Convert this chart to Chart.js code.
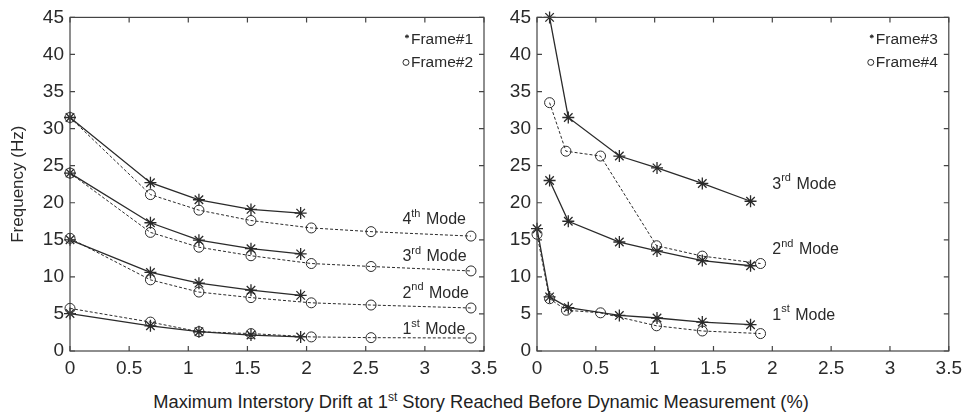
<!DOCTYPE html>
<html>
<head>
<meta charset="utf-8">
<script src="https://cdn.jsdelivr.net/npm/chart.js@4.4.1/dist/chart.umd.min.js"></script>
<style>
  body { margin: 0; background: #fff; width: 968px; height: 416px; position: relative; overflow: hidden;
         font-family: "Liberation Sans", Arial, sans-serif; }
  canvas { position: absolute; top: 0; }
  #left { left: 0; }
  #right { left: 490px; }
  #xtitle { position: absolute; left: 0; width: 962px; top: 391px; text-align: center;
            font-size: 18.3px; color: #222; }
  #xtitle sup { font-size: 12px; vertical-align: 7px; line-height: 0; }
</style>
</head>
<body>
<canvas id="left" width="510" height="385"></canvas>
<canvas id="right" width="478" height="385"></canvas>
<div id="xtitle">Maximum Interstory Drift at 1<sup>st</sup> Story Reached Before Dynamic Measurement (%)</div>
<script>
// Frames #1 / #2 (left panel)
const driftF1 = [0, 0.68, 1.09, 1.53, 1.95];
const driftF2 = [0, 0.68, 1.09, 1.53, 2.04, 2.545, 3.39];
const f1Mode1 = [5.05, 3.4, 2.6, 2.15, 1.9];
const f1Mode2 = [15.0, 10.6, 9.15, 8.2, 7.5];
const f1Mode3 = [24.0, 17.3, 14.95, 13.8, 13.1];
const f1Mode4 = [31.5, 22.7, 20.4, 19.1, 18.6];
const f2Mode1 = [5.75, 3.9, 2.6, 2.35, 1.9, 1.8, 1.75];
const f2Mode2 = [15.2, 9.6, 7.95, 7.2, 6.5, 6.2, 5.8];
const f2Mode3 = [24.0, 16.0, 14.0, 12.85, 11.8, 11.4, 10.8];
const f2Mode4 = [31.5, 21.1, 19.0, 17.6, 16.6, 16.1, 15.5];

// Frames #3 / #4 (right panel)
const driftF3 = [0, 0.107, 0.266, 0.70, 1.02, 1.405, 1.815];
const driftF3Upper = [0.107, 0.266, 0.70, 1.02, 1.405, 1.815];
const f3Mode1 = [16.5, 7.3, 5.85, 4.8, 4.45, 3.9, 3.55];
const f3Mode2 = [23.0, 17.5, 14.7, 13.5, 12.2, 11.5];
const f3Mode3 = [45, 31.5, 26.3, 24.7, 22.6, 20.2];
const driftF4 = [0, 0.107, 0.25, 0.54, 1.016, 1.405, 1.90];
const driftF4Upper = [0.107, 0.246, 0.54, 1.016, 1.405, 1.90];
const f4Mode1 = [15.75, 7.05, 5.5, 5.15, 3.4, 2.7, 2.35];
const f4Upper = [33.5, 26.95, 26.3, 14.2, 12.8, 11.8];

const xTicks = [0, 0.5, 1, 1.5, 2, 2.5, 3, 3.5];
const yTicks = [0, 5, 10, 15, 20, 25, 30, 35, 40, 45];

const INK = '#2a2a2a';
const FONT = '"Liberation Sans", Arial, sans-serif';

function pts(xs, ys) {
  return ys.map((y, i) => ({ x: xs[i], y }));
}

function starSet(xs, ys) {
  return {
    data: pts(xs, ys), borderColor: INK, borderWidth: 1.3,
    pointStyle: 'star', pointRadius: 6, pointBorderColor: INK, pointBorderWidth: 1.3,
    pointBackgroundColor: INK, clip: false, order: 1
  };
}

function circleSet(xs, ys) {
  return {
    data: pts(xs, ys), borderColor: INK, borderWidth: 1, borderDash: [3, 2],
    pointStyle: 'circle', pointRadius: 5, pointBorderColor: INK, pointBorderWidth: 1,
    pointBackgroundColor: 'rgba(0,0,0,0)', clip: false, order: 2
  };
}

// box + inward ticks on all four sides, legend and mode labels
const framePlugin = {
  id: 'frame',
  afterDraw(chart, args, opts) {
    const { ctx, chartArea: a, scales } = chart;
    ctx.save();
    ctx.strokeStyle = '#444';
    ctx.lineWidth = 1.2;
    ctx.strokeRect(a.left, a.top, a.right - a.left, a.bottom - a.top);
    ctx.beginPath();
    xTicks.forEach(v => {
      const px = scales.x.getPixelForValue(v);
      ctx.moveTo(px, a.bottom); ctx.lineTo(px, a.bottom - 5);
      ctx.moveTo(px, a.top); ctx.lineTo(px, a.top + 5);
    });
    yTicks.forEach(v => {
      const py = scales.y.getPixelForValue(v);
      ctx.moveTo(a.left, py); ctx.lineTo(a.left + 5, py);
      ctx.moveTo(a.right, py); ctx.lineTo(a.right - 5, py);
    });
    ctx.stroke();

    // legend in top-right corner
    ctx.font = '15.5px ' + FONT;
    ctx.textBaseline = 'middle';
    ctx.textAlign = 'right';
    opts.legend.forEach((name, i) => {
      const y = a.top + 22 + i * 23;
      const tx = a.right - 11;
      const w = ctx.measureText(name).width;
      ctx.fillStyle = INK;
      ctx.fillText(name, tx, y);
      ctx.strokeStyle = INK;
      ctx.lineWidth = 1;
      if (i === 0) {
        Chart.helpers.drawPoint(ctx, { pointStyle: 'star', radius: 2, borderWidth: 1 }, tx - w - 4, y - 3);
      } else {
        ctx.fillStyle = 'rgba(0,0,0,0)';
        Chart.helpers.drawPoint(ctx, { pointStyle: 'circle', radius: 3, borderWidth: 1 }, tx - w - 5, y);
      }
    });

    // mode labels with ordinal superscripts
    ctx.fillStyle = INK;
    ctx.textAlign = 'left';
    opts.modes.forEach(m => {
      let x = scales.x.getPixelForValue(m.x);
      const y = scales.y.getPixelForValue(m.y);
      ctx.font = '16px ' + FONT;
      ctx.fillText(m.num, x, y);
      x += ctx.measureText(m.num).width;
      ctx.font = '11px ' + FONT;
      ctx.fillText(m.sup, x, y - 6);
      x += ctx.measureText(m.sup).width + 1;
      ctx.font = '16px ' + FONT;
      ctx.fillText(' Mode', x, y);
    });
    ctx.restore();
  }
};

function makeChart(id, datasets, yWidth, padRight, legend, modes, yTitle) {
  return new Chart(document.getElementById(id), {
    type: 'line',
    data: { datasets },
    plugins: [framePlugin],
    options: {
      responsive: false,
      animation: false,
      layout: { padding: { top: 15, right: padRight, left: 0, bottom: 0 } },
      plugins: {
        legend: { display: false },
        tooltip: { enabled: false },
        frame: { legend, modes }
      },
      scales: {
        x: {
          type: 'linear', min: 0, max: 3.5,
          afterBuildTicks: s => { s.ticks = xTicks.map(v => ({ value: v })); },
          afterFit: s => { s.height = 34; },
          grid: { display: false, drawTicks: false },
          border: { display: false },
          ticks: { color: INK, font: { size: 19, family: FONT }, padding: 6, maxRotation: 0,
                   callback: v => String(v) }
        },
        y: {
          min: 0, max: 45,
          afterBuildTicks: s => { s.ticks = yTicks.map(v => ({ value: v })); },
          afterFit: s => { s.width = yWidth; },
          grid: { display: false, drawTicks: false },
          border: { display: false },
          ticks: { color: INK, font: { size: 19, family: FONT }, padding: 6 },
          title: { display: !!yTitle, text: yTitle, color: INK,
                   font: { size: 17, family: FONT }, padding: { top: 8 } }
        }
      }
    }
  });
}

makeChart('left', [
  starSet(driftF1, f1Mode4), circleSet(driftF2, f2Mode4),
  starSet(driftF1, f1Mode3), circleSet(driftF2, f2Mode3),
  starSet(driftF1, f1Mode2), circleSet(driftF2, f2Mode2),
  starSet(driftF1, f1Mode1), circleSet(driftF2, f2Mode1)
], 70, 26, ['Frame#1', 'Frame#2'], [
  { num: '4', sup: 'th', x: 2.81, y: 17.7 },
  { num: '3', sup: 'rd', x: 2.81, y: 12.7 },
  { num: '2', sup: 'nd', x: 2.81, y: 7.8 },
  { num: '1', sup: 'st', x: 2.81, y: 2.9 }
], 'Frequency (Hz)');

makeChart('right', [
  starSet(driftF3Upper, f3Mode3), circleSet(driftF4Upper, f4Upper),
  starSet(driftF3Upper, f3Mode2),
  starSet(driftF3, f3Mode1), circleSet(driftF4, f4Mode1)
], 47, 17, ['Frame#3', 'Frame#4'], [
  { num: '3', sup: 'rd', x: 2.0, y: 22.5 },
  { num: '2', sup: 'nd', x: 2.0, y: 13.65 },
  { num: '1', sup: 'st', x: 2.0, y: 4.8 }
], '');
</script>
</body>
</html>
